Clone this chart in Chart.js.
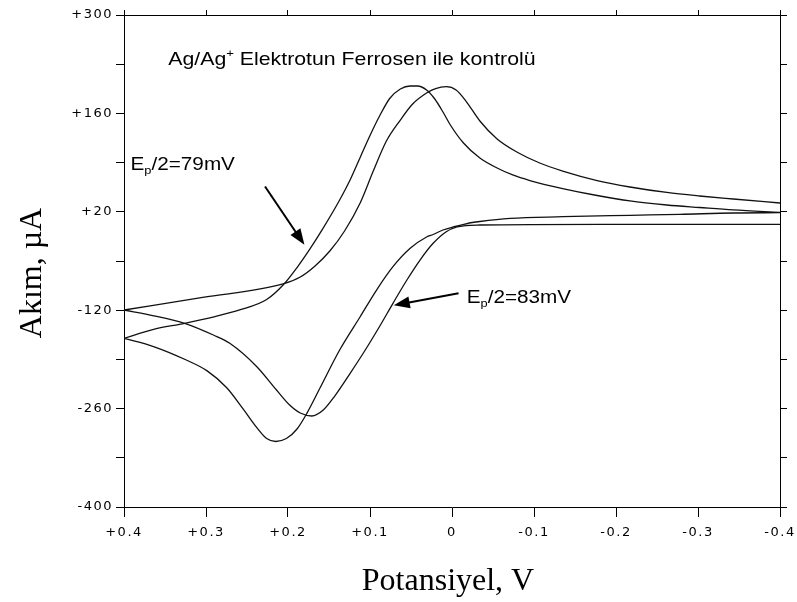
<!DOCTYPE html>
<html>
<head>
<meta charset="utf-8">
<title>Ag/Ag+ Elektrotun Ferrosen ile kontrolü</title>
<script src="https://cdn.jsdelivr.net/npm/chart.js@4.4.1/dist/chart.umd.min.js"></script>
<style>
  html, body { margin: 0; padding: 0; background: #fff; }
  canvas { display: block; }
</style>
</head>
<body>
<canvas id="cvChart" width="797" height="602"></canvas>
<script>
// Cyclic voltammograms, potential in V and current in µA
// Scan 1: the curve marked Ep/2=79mV
const scan1ForwardV = [0.400, 0.365, 0.326, 0.289, 0.259, 0.226, 0.206, 0.189, 0.173, 0.159, 0.137, 0.124, 0.112, 0.100, 0.088, 0.076, 0.063, 0.051, 0.042, 0.031, 0.021, 0.011, 0.002, -0.014, -0.034, -0.055, -0.074, -0.095, -0.135, -0.177, -0.217, -0.262, -0.302, -0.343, -0.400];
const scan1ForwardI = [-160, -147.5, -138.6, -129, -119.7, -104.8, -84.2, -59.3, -32.4, -6.8, 36.8, 65.9, 97.3, 128.6, 157, 181.2, 194.7, 199, 199, 193.3, 180.5, 162, 143.5, 117.9, 96.5, 82.3, 72.4, 64.5, 53.1, 43.2, 35.4, 29.7, 26.1, 22.6, 19.3];
const scan1ReverseV = [-0.400, -0.343, -0.278, -0.217, -0.135, -0.071, -0.034, -0.018, -0.004, 0.011, 0.023, 0.031, 0.051, 0.072, 0.092, 0.112, 0.137, 0.161, 0.177, 0.189, 0.202, 0.215, 0.226, 0.238, 0.255, 0.275, 0.299, 0.324, 0.364, 0.400];
const scan1ReverseI = [18.7, 18.3, 16.4, 15, 13, 10.7, 6.2, 3.3, -0.9, -5.9, -12.3, -15.9, -31.9, -58.1, -91.3, -129.3, -176.6, -230.7, -266.7, -289, -302.6, -306.8, -302.6, -287, -260, -230, -206, -190.9, -171.7, -160];

// Scan 2: the curve marked Ep/2=83mV
const scan2ForwardV = [0.400, 0.304, 0.206, 0.185, 0.167, 0.149, 0.131, 0.112, 0.096, 0.080, 0.063, 0.048, 0.031, 0.020, 0.007, -0.005, -0.017, -0.034, -0.055, -0.079, -0.107, -0.135, -0.177, -0.217, -0.262, -0.302, -0.343, -0.400];
const scan2ForwardI = [-119.7, -101.9, -82.7, -72.8, -57.1, -35.8, -7.3, 32.5, 78, 120.7, 150.6, 173.4, 189, 195.4, 198, 193.3, 177.6, 149.2, 123.6, 105.1, 89.4, 78, 64.5, 55.3, 47.5, 42.5, 38.2, 32.5];
const scan2ReverseV = [-0.400, -0.181, -0.034, -0.017, -0.006, 0.007, 0.023, 0.039, 0.055, 0.072, 0.088, 0.105, 0.124, 0.143, 0.157, 0.171, 0.185, 0.198, 0.214, 0.238, 0.271, 0.291, 0.326, 0.365, 0.400];
const scan2ReverseI = [2.2, 2.2, 1.2, 0.5, -1.6, -8.3, -24.8, -48.6, -77, -110.2, -142.5, -175.2, -209.4, -242.1, -262, -270.5, -266.3, -254.9, -233.6, -200.4, -167.1, -155.3, -138.6, -127.6, -119.7];

// Axis ticks
const xTickValues = [0.4, 0.3, 0.2, 0.1, 0, -0.1, -0.2, -0.3, -0.4];
const xTickLabels = ['+0.4', '+0.3', '+0.2', '+0.1', '0', '-0.1', '-0.2', '-0.3', '-0.4'];
const yTickValues = [300, 160, 20, -120, -260, -400];
const yTickLabels = ['+300', '+160', '+20', '-120', '-260', '-400'];

// Texts
const xTitle = 'Potansiyel, V';
const yTitle = 'Akım, µA';

function toPoints(vs, is) {
    return vs.map((v, i) => ({ x: v, y: is[i] }));
}

function labelFor(values, labels) {
    return (value) => {
        const k = values.findIndex(t => Math.abs(t - value) < 1e-6);
        return k >= 0 ? labels[k] : '';
    };
}

// text pieces: plain, sub or sup
function drawRich(ctx, parts, x, y, size, stretch) {
    ctx.save();
    ctx.translate(x, y);
    ctx.scale(stretch, 1);
    ctx.fillStyle = '#000';
    ctx.textBaseline = 'alphabetic';
    ctx.textAlign = 'left';
    let cx = 0;
    parts.forEach(p => {
        const small = p.sub || p.sup;
        const fs = small ? size * 0.62 : size;
        const dy = p.sub ? size * 0.22 : p.sup ? -size * 0.42 : 0;
        ctx.font = fs + 'px "Liberation Sans", Arial, sans-serif';
        ctx.fillText(p.t, cx, dy);
        cx += ctx.measureText(p.t).width;
    });
    ctx.restore();
}

function drawArrow(ctx, x1, y1, x2, y2) {
    const ang = Math.atan2(y2 - y1, x2 - x1);
    const len = 16, half = 6;
    ctx.save();
    ctx.strokeStyle = '#000';
    ctx.fillStyle = '#000';
    ctx.lineWidth = 2;
    ctx.beginPath();
    ctx.moveTo(x1, y1);
    ctx.lineTo(x2 - Math.cos(ang) * len * 0.8, y2 - Math.sin(ang) * len * 0.8);
    ctx.stroke();
    ctx.beginPath();
    ctx.moveTo(x2, y2);
    ctx.lineTo(x2 - Math.cos(ang) * len - Math.sin(ang) * half, y2 - Math.sin(ang) * len + Math.cos(ang) * half);
    ctx.lineTo(x2 - Math.cos(ang) * len + Math.sin(ang) * half, y2 - Math.sin(ang) * len - Math.cos(ang) * half);
    ctx.closePath();
    ctx.fill();
    ctx.restore();
}

// Annotations, placed in data units (V, µA)
const annotations = {
    title: { x: 0.346, y: 229, parts: [{ t: 'Ag/Ag' }, { t: '+', sup: true }, { t: ' Elektrotun Ferrosen ile kontrolü' }], size: 19, stretch: 1.12 },
    label1: { x: 0.392, y: 79, parts: [{ t: 'E' }, { t: 'p', sub: true }, { t: '/2=79mV' }], size: 18, stretch: 1.15 },
    label2: { x: -0.018, y: -110, parts: [{ t: 'E' }, { t: 'p', sub: true }, { t: '/2=83mV' }], size: 18, stretch: 1.15 }
};
const arrows = [
    { from: [0.228, 56], to: [0.180, -27] },
    { from: [-0.008, -96], to: [0.071, -113] }
];

const cvPlugin = {
    id: 'cvExtras',
    afterDatasetsDraw(chart) {
        // wide spacing for the tick labels drawn after this point (ticks.z = 1)
        chart.ctx.letterSpacing = '1.5px';
    },
    afterDraw(chart) {
        const ctx = chart.ctx;
        const xs = chart.scales.x, ys = chart.scales.y;
        const area = chart.chartArea;
        ctx.letterSpacing = '0px';

        Object.values(annotations).forEach(a => {
            drawRich(ctx, a.parts, xs.getPixelForValue(a.x), ys.getPixelForValue(a.y), a.size, a.stretch);
        });
        arrows.forEach(a => {
            drawArrow(ctx, xs.getPixelForValue(a.from[0]), ys.getPixelForValue(a.from[1]),
                xs.getPixelForValue(a.to[0]), ys.getPixelForValue(a.to[1]));
        });

        // axis titles
        ctx.save();
        ctx.fillStyle = '#000';
        ctx.font = '32px "Liberation Serif", "Times New Roman", serif';
        ctx.textAlign = 'center';
        ctx.textBaseline = 'alphabetic';
        ctx.fillText(xTitle, (area.left + area.right) / 2 - 4, 590);
        ctx.translate(41, (area.top + area.bottom) / 2 + 12);
        ctx.rotate(-Math.PI / 2);
        ctx.fillText(yTitle, 0, 0);
        ctx.restore();
    }
};

const tickFont = { family: 'DejaVu Sans', size: 13 };

// fixed box sizes so the plot area lands where it is in the figure
function fixSize(prop, size) {
    return s => {
        s[prop] = size;
        s.paddingLeft = s.paddingRight = s.paddingTop = s.paddingBottom = 0;
    };
}

function axis(extra) {
    return Object.assign({
        type: 'linear',
        border: { display: true, color: '#000', width: 1 }
    }, extra);
}

const seriesStyle = { showLine: true, pointRadius: 0, borderColor: '#111', borderWidth: 1.3, cubicInterpolationMode: 'monotone', fill: false };

new Chart(document.getElementById('cvChart'), {
    type: 'scatter',
    data: {
        datasets: [
            Object.assign({ label: 'Tarama 1 ileri', data: toPoints(scan1ForwardV, scan1ForwardI) }, seriesStyle),
            Object.assign({ label: 'Tarama 1 geri', data: toPoints(scan1ReverseV, scan1ReverseI) }, seriesStyle),
            Object.assign({ label: 'Tarama 2 ileri', data: toPoints(scan2ForwardV, scan2ForwardI) }, seriesStyle),
            Object.assign({ label: 'Tarama 2 geri', data: toPoints(scan2ReverseV, scan2ReverseI) }, seriesStyle)
        ]
    },
    options: {
        responsive: false,
        animation: false,
        devicePixelRatio: 1,
        layout: { padding: 0 },
        plugins: { legend: { display: false }, tooltip: { enabled: false } },
        scales: {
            x: axis({
                position: 'bottom', reverse: true, min: -0.4, max: 0.4,
                grid: { drawOnChartArea: false, color: '#000', tickLength: 10 },
                ticks: { stepSize: 0.1, autoSkip: false, maxRotation: 0, color: '#000', font: tickFont, padding: 8, z: 1,
                    callback: labelFor(xTickValues, xTickLabels) },
                afterFit: fixSize('height', 95)
            }),
            x2: axis({
                axis: 'x', position: 'top', reverse: true, min: -0.4, max: 0.4,
                grid: { drawOnChartArea: false, color: '#000', tickLength: 5 },
                ticks: { stepSize: 0.1, autoSkip: false, maxRotation: 0, callback: () => '' },
                afterFit: fixSize('height', 15)
            }),
            y: axis({
                position: 'left', min: -400, max: 300,
                grid: { drawOnChartArea: false, color: '#000', tickLength: 8 },
                ticks: { stepSize: 70, autoSkip: false, color: '#000', font: tickFont, padding: 3, z: 1,
                    callback: labelFor(yTickValues, yTickLabels) },
                afterFit: fixSize('width', 124)
            }),
            y2: axis({
                axis: 'y', position: 'right', min: -400, max: 300,
                grid: { drawOnChartArea: false, color: '#000', tickLength: 7 },
                ticks: { stepSize: 70, autoSkip: false, callback: () => '' },
                afterFit: fixSize('width', 17)
            })
        }
    },
    plugins: [cvPlugin]
});
</script>
</body>
</html>
